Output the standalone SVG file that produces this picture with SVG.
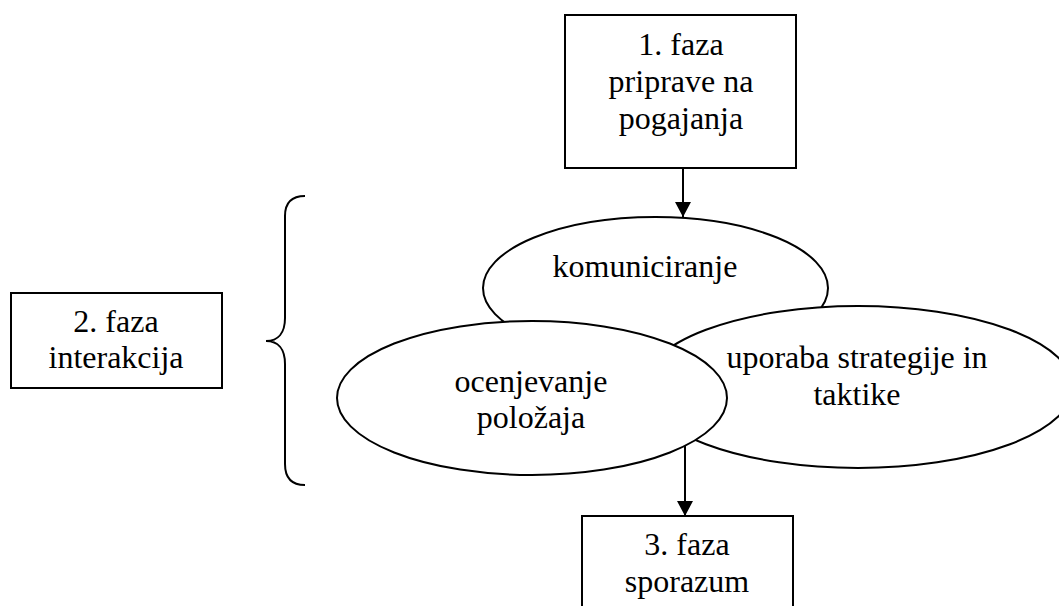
<svg xmlns="http://www.w3.org/2000/svg" width="1059" height="606" viewBox="0 0 1059 606">
<style>
.box{fill:#fff;stroke:#000;stroke-width:2}
.ell{fill:#fff;stroke:#000;stroke-width:2}
.t{font-family:"Liberation Serif","Times New Roman",serif;font-size:32px;fill:#000;text-anchor:middle}
.conn{stroke:#000;stroke-width:2;fill:none}
</style>
<defs>
<marker id="arr" markerUnits="userSpaceOnUse" markerWidth="16" markerHeight="16" refX="15" refY="8" orient="auto">
<path d="M0,0 L15,8 L0,16 Z" fill="#000"/>
</marker>
</defs>
<rect width="1059" height="606" fill="#fff"/>
<g id="faza1">
<rect class="box" x="565" y="15" width="231" height="153"/>
<text class="t" x="681" y="55">1. faza</text>
<text class="t" x="681" y="92">priprave na</text>
<text class="t" x="681" y="129">pogajanja</text>
</g>
<g id="faza2">
<rect class="box" x="11" y="293" width="211" height="95"/>
<text class="t" x="116" y="332">2. faza</text>
<text class="t" x="116" y="368">interakcija</text>
</g>
<g id="brace">
<path class="conn" d="M305,196 C292,196 285,203 285,216 L285,318 C285,333 278,341 266,341 C278,341 285,349 285,364 L285,464 C285,478 292,485 305,485"/>
</g>
<g id="komuniciranje">
<ellipse class="ell" cx="655.5" cy="288" rx="172.5" ry="71"/>
<text class="t" x="645" y="277">komuniciranje</text>
</g>
<g id="uporaba">
<ellipse class="ell" cx="858" cy="387" rx="215" ry="81"/>
<text class="t" x="857" y="368">uporaba strategije in</text>
<text class="t" x="857" y="405">taktike</text>
</g>
<g id="ocenjevanje">
<ellipse class="ell" cx="532" cy="398" rx="195" ry="77"/>
<text class="t" x="531" y="392">ocenjevanje</text>
<text class="t" x="531" y="428">položaja</text>
</g>
<g id="faza3">
<rect class="box" x="582" y="516" width="211" height="110"/>
<text class="t" x="687" y="555">3. faza</text>
<text class="t" x="687" y="592">sporazum</text>
</g>
<g id="connectors">
<line class="conn" x1="683" y1="168" x2="683" y2="217" marker-end="url(#arr)"/>
<line class="conn" x1="685" y1="446" x2="685" y2="516" marker-end="url(#arr)"/>
</g>
</svg>
